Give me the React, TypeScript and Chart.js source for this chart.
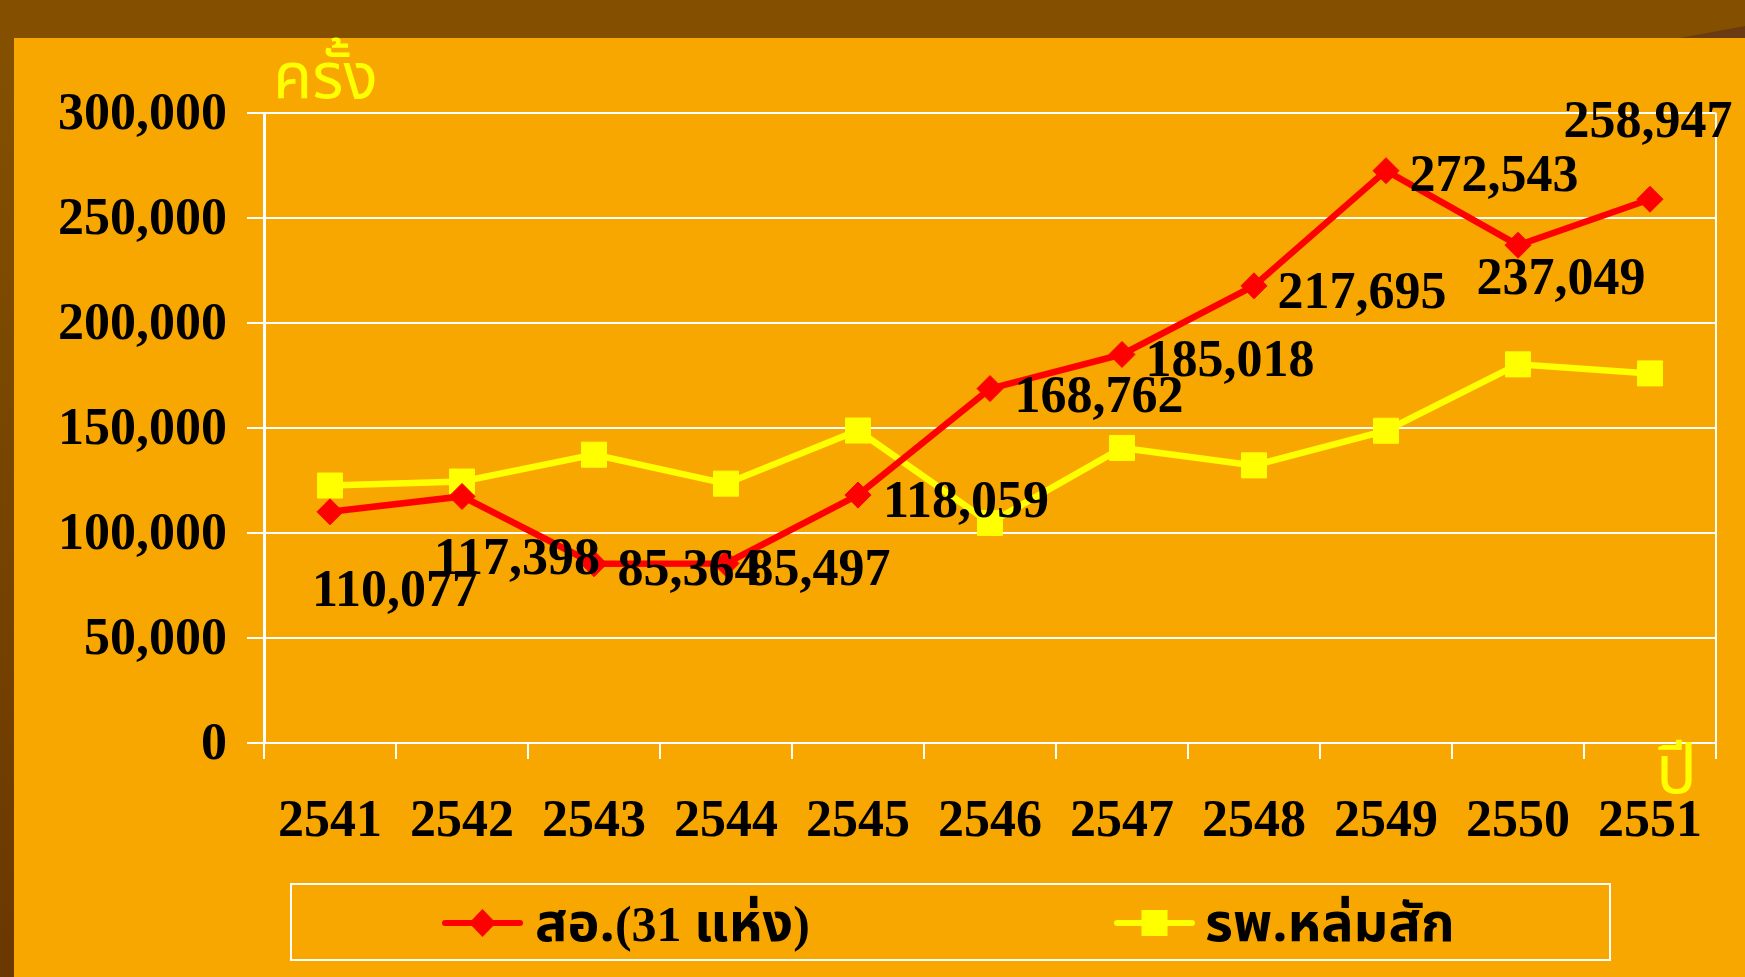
import React, { useEffect, useRef } from 'react';
import { Chart, registerables } from 'chart.js';

Chart.register(...registerables);

// ---- data ----
const years = ['2541', '2542', '2543', '2544', '2545', '2546', '2547', '2548', '2549', '2550', '2551'];
const healthCenters = [110077, 117398, 85364, 85497, 118059, 168762, 185018, 217695, 272543, 237049, 258947];
const hospital = [122600, 124500, 137300, 123500, 148800, 104800, 140500, 132200, 148700, 180300, 176000];
const seriesNames = ['สอ.(31 แห่ง)', 'รพ.หล่มสัก'];
const yMin = 0;
const yMax = 300000;
const yStep = 50000;
const yTitle = 'ครั้ง';
const xTitle = 'ปี';

// ---- styling (not data) ----
const ORANGE = '#F8A600';
const BROWN = '#845000';
const RED = '#FF0000';
const YELLOW = '#FFFF00';
const SERIF = '"Times New Roman", "Liberation Serif", "Tahoma", "Noto Sans Thai", "Loma", "Garuda", serif';
const THAI = '"Tahoma", "Noto Sans Thai", "Loma", "Garuda", "Norasi", sans-serif';
// label text centre relative to its point (px), for the red series
const labelOffsets: [number, number][] = [
  [65, 77], [55, 60], [95, 4], [93, 4], [108, 4], [109, 6], [108, 4], [108, 5], [108, 3], [43, 31], [-2, -80],
];

const fmt = (v: number) => v.toLocaleString('en-US');

// draw mixed Thai / Latin text, each script with its own size
function drawMixed(ctx: CanvasRenderingContext2D, text: string, x: number, y: number) {
  const runs = text.match(/[\u0E00-\u0E7F.]+|[^\u0E00-\u0E7F.]+/g) || [];
  let cx = x;
  ctx.textAlign = 'left';
  ctx.textBaseline = 'alphabetic';
  runs.forEach((r) => {
    const thai = /[\u0E00-\u0E7F]/.test(r);
    ctx.font = thai ? `bold 54px ${THAI}` : `bold 50px ${SERIF}`;
    ctx.fillText(r, cx, y);
    cx += ctx.measureText(r).width;
  });
}

const overlayPlugin = {
  id: 'overlay',
  afterDatasetsDraw(chart: any) {
    const ctx = chart.ctx as CanvasRenderingContext2D;
    const { top, bottom, right } = chart.chartArea;
    ctx.save();
    // right border of plot area
    ctx.strokeStyle = '#FFFFFF';
    ctx.lineWidth = 2;
    ctx.beginPath();
    ctx.moveTo(right, top);
    ctx.lineTo(right, bottom);
    ctx.stroke();
    // data labels for first series
    const meta = chart.getDatasetMeta(0);
    ctx.font = `bold 52px ${SERIF}`;
    ctx.fillStyle = '#000000';
    ctx.textAlign = 'center';
    ctx.textBaseline = 'alphabetic';
    meta.data.forEach((pt: any, i: number) => {
      const [dx, dy] = labelOffsets[i] || [0, 0];
      ctx.fillText(fmt(healthCenters[i]), pt.x + dx, pt.y + dy + 17.5);
    });
    ctx.restore();
  },
  afterDraw(chart: any) {
    const ctx = chart.ctx as CanvasRenderingContext2D;
    const { left, right, bottom } = chart.chartArea;
    ctx.save();
    // axis titles
    ctx.fillStyle = YELLOW;
    ctx.textBaseline = 'alphabetic';
    ctx.textAlign = 'left';
    ctx.font = `64px ${THAI}`;
    ctx.fillText(yTitle, left + 9, 98);
    ctx.font = `68px ${THAI}`;
    ctx.fillText(xTitle, right - 60, bottom + 50);

    // legend box
    const lx = 291, ly = 884, lw = 1319, lh = 76;
    ctx.strokeStyle = '#FFFFFF';
    ctx.lineWidth = 2;
    ctx.strokeRect(lx, ly, lw, lh);
    const cy = 923;
    const items = [
      { x: 445, color: RED, shape: 'diamond', label: seriesNames[0], tx: 535 },
      { x: 1117, color: YELLOW, shape: 'square', label: seriesNames[1], tx: 1205 },
    ];
    items.forEach((it) => {
      ctx.strokeStyle = it.color;
      ctx.lineWidth = 6;
      ctx.lineCap = 'round';
      ctx.beginPath();
      ctx.moveTo(it.x, cy);
      ctx.lineTo(it.x + 75, cy);
      ctx.stroke();
      ctx.fillStyle = it.color;
      const mx = it.x + 37.5;
      if (it.shape === 'diamond') {
        ctx.beginPath();
        ctx.moveTo(mx - 13.5, cy);
        ctx.lineTo(mx, cy - 14);
        ctx.lineTo(mx + 13.5, cy);
        ctx.lineTo(mx, cy + 14);
        ctx.closePath();
        ctx.fill();
      } else {
        ctx.fillRect(mx - 13, cy - 13, 26, 26);
      }
      ctx.fillStyle = '#000000';
      drawMixed(ctx, it.label, it.tx, 941);
    });
    ctx.restore();
  },
};

export default function App() {
  const canvasRef = useRef<HTMLCanvasElement>(null);

  useEffect(() => {
    const canvas = canvasRef.current;
    if (!canvas) return;
    const tickFont = { family: SERIF, size: 52, weight: 'bold' as const, lineHeight: 1.2 };
    const chart = new Chart(canvas, {
      type: 'line',
      data: {
        labels: years,
        datasets: [
          {
            label: seriesNames[0],
            data: healthCenters,
            borderColor: RED,
            backgroundColor: RED,
            borderWidth: 6.5,
            pointStyle: 'rectRot',
            pointRadius: 13,
            pointBorderWidth: 1,
            pointBackgroundColor: RED,
            pointBorderColor: RED,
            tension: 0,
          },
          {
            label: seriesNames[1],
            data: hospital,
            borderColor: YELLOW,
            backgroundColor: YELLOW,
            borderWidth: 6.5,
            pointStyle: 'rect',
            pointRadius: 17.7,
            pointBorderWidth: 1,
            pointBackgroundColor: YELLOW,
            pointBorderColor: YELLOW,
            tension: 0,
          },
        ],
      },
      options: {
        responsive: false,
        animation: false,
        devicePixelRatio: 1,
        layout: { padding: { left: 0, top: 113, right: 29, bottom: 94 } },
        plugins: {
          legend: { display: false },
          tooltip: { enabled: false },
        },
        scales: {
          x: {
            type: 'category',
            offset: true,
            grid: {
              offset: true,
              drawOnChartArea: false,
              drawTicks: true,
              tickLength: 16,
              color: '#FFFFFF',
              lineWidth: 2,
            },
            border: { display: true, color: '#FFFFFF', width: 2 },
            ticks: { color: '#000000', font: tickFont, padding: 32, maxRotation: 0, autoSkip: false },
            afterFit: (s: any) => { s.height = 140; },
          },
          y: {
            min: yMin,
            max: yMax,
            ticks: {
              stepSize: yStep,
              color: '#000000',
              font: tickFont,
              padding: 20,
              labelOffset: 3,
              callback: (v: any) => fmt(Number(v)),
            },
            grid: {
              drawOnChartArea: true,
              drawTicks: true,
              tickLength: 17,
              color: '#FFFFFF',
              lineWidth: 2,
            },
            border: { display: true, color: '#FFFFFF', width: 3 },
            afterFit: (s: any) => { s.width = 264; },
          },
        },
      },
      plugins: [overlayPlugin],
    });
    return () => chart.destroy();
  }, []);

  return (
    <div style={{ position: 'fixed', left: 0, top: 0, width: 1745, height: 977, background: BROWN, overflow: 'hidden' }}>
      <div style={{ position: 'absolute', left: 0, top: 38, width: 14, bottom: 0, background: `linear-gradient(${BROWN}, #6A3800)` }} />
      <div style={{ position: 'absolute', left: 14, top: 38, right: 0, bottom: 0, background: ORANGE }} />
      <div style={{ position: 'absolute', left: 1680, top: 26, width: 65, height: 12, background: '#6A3A10', clipPath: 'polygon(0% 100%, 100% 0%, 100% 100%)' }} />
      <canvas ref={canvasRef} width={1745} height={977} style={{ position: 'absolute', left: 0, top: 0, width: 1745, height: 977 }} />
    </div>
  );
}
